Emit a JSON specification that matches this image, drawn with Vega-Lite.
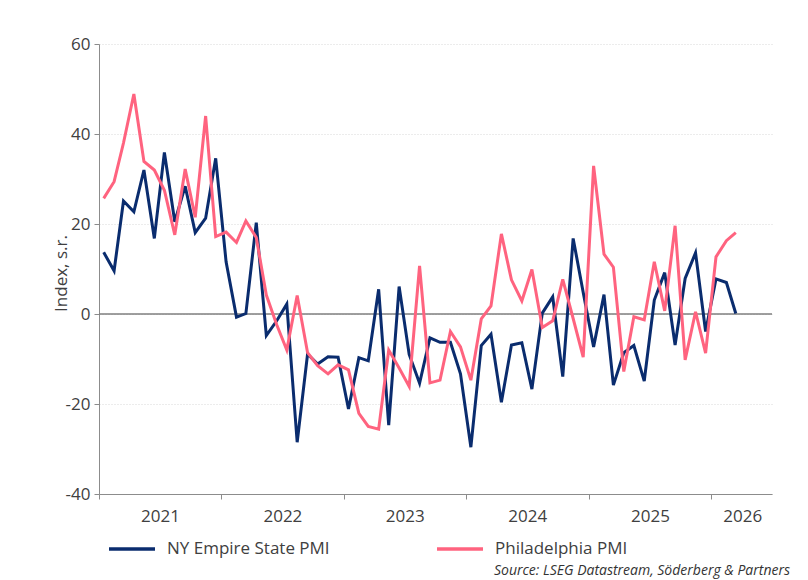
{
  "$schema": "https://vega.github.io/schema/vega-lite/v6.json",
  "width": 673,
  "height": 450,
  "autosize": {"type": "none"},
  "padding": {"left": 99, "top": 44, "right": 36, "bottom": 86},
  "background": "white",
  "config": {"font": "Open Sans", "view": {"stroke": null}},
  "title": {"text": "Source: LSEG Datastream, Söderberg & Partners", "orient": "bottom", "anchor": "end", "frame": "group", "fontSize": 14, "fontStyle": "italic", "fontWeight": "normal", "color": "#333333", "offset": 7, "dx": 18},
  "data": {"values": [
    {"date": "2021-01-15", "NY Empire State PMI": 13.7, "Philadelphia PMI": 25.7},
    {"date": "2021-02-15", "NY Empire State PMI": 9.6, "Philadelphia PMI": 29.4},
    {"date": "2021-03-15", "NY Empire State PMI": 25.1, "Philadelphia PMI": 38},
    {"date": "2021-04-15", "NY Empire State PMI": 22.7, "Philadelphia PMI": 48.9},
    {"date": "2021-05-15", "NY Empire State PMI": 32, "Philadelphia PMI": 33.9},
    {"date": "2021-06-15", "NY Empire State PMI": 16.8, "Philadelphia PMI": 32},
    {"date": "2021-07-15", "NY Empire State PMI": 35.9, "Philadelphia PMI": 27.5},
    {"date": "2021-08-15", "NY Empire State PMI": 20.5, "Philadelphia PMI": 17.6},
    {"date": "2021-09-15", "NY Empire State PMI": 28.4, "Philadelphia PMI": 32.2},
    {"date": "2021-10-15", "NY Empire State PMI": 18.1, "Philadelphia PMI": 21.5},
    {"date": "2021-11-15", "NY Empire State PMI": 21.3, "Philadelphia PMI": 44},
    {"date": "2021-12-15", "NY Empire State PMI": 34.6, "Philadelphia PMI": 17.2},
    {"date": "2022-01-15", "NY Empire State PMI": 11.6, "Philadelphia PMI": 18.2},
    {"date": "2022-02-15", "NY Empire State PMI": -0.7, "Philadelphia PMI": 15.9},
    {"date": "2022-03-15", "NY Empire State PMI": 0.1, "Philadelphia PMI": 20.7},
    {"date": "2022-04-15", "NY Empire State PMI": 20.3, "Philadelphia PMI": 17},
    {"date": "2022-05-15", "NY Empire State PMI": -4.8, "Philadelphia PMI": 4.2},
    {"date": "2022-06-15", "NY Empire State PMI": -1.5, "Philadelphia PMI": -2.4},
    {"date": "2022-07-15", "NY Empire State PMI": 2.2, "Philadelphia PMI": -8},
    {"date": "2022-08-15", "NY Empire State PMI": -28.5, "Philadelphia PMI": 4.1},
    {"date": "2022-09-15", "NY Empire State PMI": -8.9, "Philadelphia PMI": -8.6},
    {"date": "2022-10-15", "NY Empire State PMI": -11.1, "Philadelphia PMI": -11.5},
    {"date": "2022-11-15", "NY Empire State PMI": -9.5, "Philadelphia PMI": -13.3},
    {"date": "2022-12-15", "NY Empire State PMI": -9.6, "Philadelphia PMI": -11.3},
    {"date": "2023-01-15", "NY Empire State PMI": -21.1, "Philadelphia PMI": -12.4},
    {"date": "2023-02-15", "NY Empire State PMI": -9.7, "Philadelphia PMI": -22.1},
    {"date": "2023-03-15", "NY Empire State PMI": -10.4, "Philadelphia PMI": -25},
    {"date": "2023-04-15", "NY Empire State PMI": 5.5, "Philadelphia PMI": -25.6},
    {"date": "2023-05-15", "NY Empire State PMI": -24.7, "Philadelphia PMI": -8},
    {"date": "2023-06-15", "NY Empire State PMI": 6.1, "Philadelphia PMI": -12},
    {"date": "2023-07-15", "NY Empire State PMI": -9, "Philadelphia PMI": -16.1},
    {"date": "2023-08-15", "NY Empire State PMI": -15.4, "Philadelphia PMI": 10.7},
    {"date": "2023-09-15", "NY Empire State PMI": -5.3, "Philadelphia PMI": -15.3},
    {"date": "2023-10-15", "NY Empire State PMI": -6.3, "Philadelphia PMI": -14.7},
    {"date": "2023-11-15", "NY Empire State PMI": -6.3, "Philadelphia PMI": -3.9},
    {"date": "2023-12-15", "NY Empire State PMI": -13.3, "Philadelphia PMI": -7.3},
    {"date": "2024-01-15", "NY Empire State PMI": -29.6, "Philadelphia PMI": -14.7},
    {"date": "2024-02-15", "NY Empire State PMI": -7, "Philadelphia PMI": -1.1},
    {"date": "2024-03-15", "NY Empire State PMI": -4.5, "Philadelphia PMI": 1.8},
    {"date": "2024-04-15", "NY Empire State PMI": -19.6, "Philadelphia PMI": 17.8},
    {"date": "2024-05-15", "NY Empire State PMI": -6.9, "Philadelphia PMI": 7.6},
    {"date": "2024-06-15", "NY Empire State PMI": -6.4, "Philadelphia PMI": 2.9},
    {"date": "2024-07-15", "NY Empire State PMI": -16.7, "Philadelphia PMI": 9.9},
    {"date": "2024-08-15", "NY Empire State PMI": 0.2, "Philadelphia PMI": -3},
    {"date": "2024-09-15", "NY Empire State PMI": 3.8, "Philadelphia PMI": -1.5},
    {"date": "2024-10-15", "NY Empire State PMI": -13.9, "Philadelphia PMI": 7.7},
    {"date": "2024-11-15", "NY Empire State PMI": 16.8, "Philadelphia PMI": -1},
    {"date": "2024-12-15", "NY Empire State PMI": 4.8, "Philadelphia PMI": -9.6},
    {"date": "2025-01-15", "NY Empire State PMI": -7.3, "Philadelphia PMI": 32.9},
    {"date": "2025-02-15", "NY Empire State PMI": 4.3, "Philadelphia PMI": 13.3},
    {"date": "2025-03-15", "NY Empire State PMI": -15.8, "Philadelphia PMI": 10.4},
    {"date": "2025-04-15", "NY Empire State PMI": -8.6, "Philadelphia PMI": -12.8},
    {"date": "2025-05-15", "NY Empire State PMI": -7, "Philadelphia PMI": -0.6},
    {"date": "2025-06-15", "NY Empire State PMI": -14.9, "Philadelphia PMI": -1.3},
    {"date": "2025-07-15", "NY Empire State PMI": 3.1, "Philadelphia PMI": 11.6},
    {"date": "2025-08-15", "NY Empire State PMI": 9.2, "Philadelphia PMI": 0.7},
    {"date": "2025-09-15", "NY Empire State PMI": -6.9, "Philadelphia PMI": 19.6},
    {"date": "2025-10-15", "NY Empire State PMI": 7.9, "Philadelphia PMI": -10.2},
    {"date": "2025-11-15", "NY Empire State PMI": 13.6, "Philadelphia PMI": 0.5},
    {"date": "2025-12-15", "NY Empire State PMI": -3.9, "Philadelphia PMI": -8.7},
    {"date": "2026-01-15", "NY Empire State PMI": 7.8, "Philadelphia PMI": 12.7},
    {"date": "2026-02-15", "NY Empire State PMI": 7, "Philadelphia PMI": 16.3},
    {"date": "2026-03-15", "NY Empire State PMI": 0.1, "Philadelphia PMI": 18.1}
  ]},
  "layer": [
    {
      "data": {"values": [{"zero": 0}]},
      "mark": {"type": "rule", "color": "#7f7f7f", "strokeWidth": 1.5},
      "encoding": {"y": {"field": "zero", "type": "quantitative",
          "scale": {"domain": [-40, 60], "nice": false, "zero": false},
          "axis": {
            "title": "Index, s.r.", "titleFontSize": 17, "titleFontWeight": "normal", "titleColor": "#404040", "titleX": -29, "titleY": 229,
            "values": [-40, -20, 0, 20, 40, 60], "labelExpr": "'' + datum.value",
            "labelFontSize": 17, "labelColor": "#404040", "labelPadding": 4,
            "grid": true, "gridColor": "#d9d9d9", "gridDash": [1, 2],
            "domainColor": "#8c8c8c", "tickColor": "#8c8c8c", "tickSize": 5
          }}}
    },
    {
      "transform": [{"fold": ["NY Empire State PMI", "Philadelphia PMI"], "as": ["series", "value"]}],
      "mark": {"type": "line", "strokeWidth": 3, "strokeJoin": "miter", "strokeMiterLimit": 4},
      "encoding": {
        "x": {
          "field": "date", "type": "temporal",
          "scale": {"type": "utc", "domain": [{"year": 2021, "month": 1, "date": 1, "utc": true}, {"year": 2026, "month": 7, "date": 1, "utc": true}], "nice": false},
          "axis": {
            "title": null, "grid": false, "format": "%Y",
            "values": [{"year": 2021, "month": 1, "date": 1, "utc": true}, {"year": 2022, "month": 1, "date": 1, "utc": true}, {"year": 2023, "month": 1, "date": 1, "utc": true}, {"year": 2024, "month": 1, "date": 1, "utc": true}, {"year": 2025, "month": 1, "date": 1, "utc": true}, {"year": 2026, "month": 1, "date": 1, "utc": true}],
            "labelOffset": {"condition": {"test": "utcyear(datum.value) == 2026", "value": 31}, "value": 61},
            "labelFontSize": 17, "labelColor": "#404040", "labelPadding": 9, "labelFlush": false, "labelOverlap": false,
            "domainColor": "#8c8c8c", "tickColor": "#8c8c8c", "tickSize": 5
          }
        },
        "y": {
          "field": "value", "type": "quantitative",
          "scale": {"domain": [-40, 60], "nice": false, "zero": false},
          "axis": {
            "title": "Index, s.r.", "titleFontSize": 17, "titleFontWeight": "normal", "titleColor": "#404040", "titleX": -29, "titleY": 229,
            "values": [-40, -20, 0, 20, 40, 60], "labelExpr": "'' + datum.value",
            "labelFontSize": 17, "labelColor": "#404040", "labelPadding": 4,
            "grid": true, "gridColor": "#d9d9d9", "gridDash": [1, 2],
            "domainColor": "#8c8c8c", "tickColor": "#8c8c8c", "tickSize": 5
          }
        },
        "color": {
          "field": "series", "type": "nominal",
          "scale": {"domain": ["NY Empire State PMI", "Philadelphia PMI"], "range": ["#0a2c6e", "#ff637f"]},
          "legend": {
            "orient": "none", "legendX": 8, "legendY": 480, "direction": "horizontal", "title": null,
            "symbolType": "stroke", "symbolSize": 2116, "symbolStrokeWidth": 3.5, "labelLimit": 400,
            "labelFontSize": 17, "labelColor": "#404040", "labelOffset": 10, "columnPadding": 100
          }
        }
      }
    }
  ]
}
